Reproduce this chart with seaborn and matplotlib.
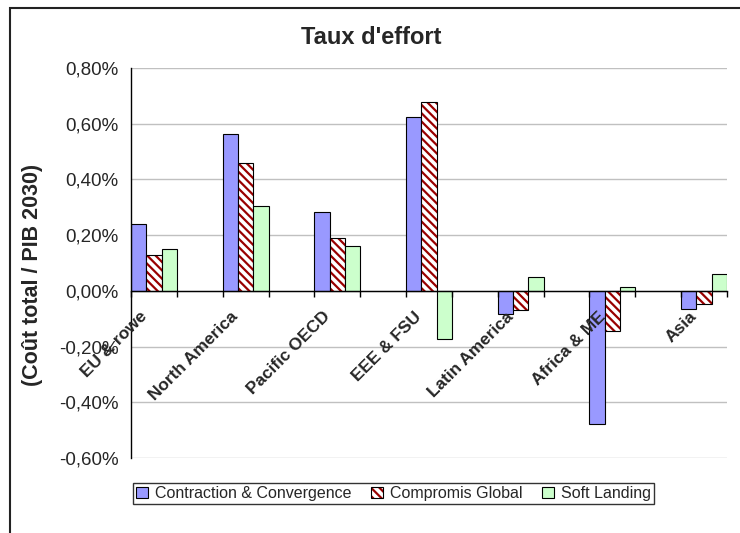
import matplotlib
matplotlib.use("Agg")
import matplotlib.pyplot as plt
import matplotlib.transforms as mtransforms
from matplotlib.patches import Rectangle
from matplotlib.colors import to_rgba
from matplotlib.ticker import FixedLocator, FuncFormatter
import seaborn as sns
import pandas as pd

# ---- data (values in % of GDP 2030) ----
regions = ["EU & rowe", "North America", "Pacific OECD", "EEE & FSU",
           "Latin America", "Africa & ME", "Asia"]
scenarios = ["Contraction & Convergence", "Compromis Global", "Soft Landing"]
cc_values = [0.239, 0.564, 0.284, 0.623, -0.083, -0.478, -0.066]
cg_values = [0.130, 0.460, 0.189, 0.679, -0.069, -0.145, -0.047]
sl_values = [0.151, 0.306, 0.161, -0.173, 0.051, 0.015, 0.061]
y_ticks = [-0.6, -0.4, -0.2, 0.0, 0.2, 0.4, 0.6, 0.8]
title = "Taux d'effort"
y_label = "(Coût total / PIB 2030)"

df = pd.DataFrame({
    "region": regions * 3,
    "scenario": [scenarios[0]] * 7 + [scenarios[1]] * 7 + [scenarios[2]] * 7,
    "value": cc_values + cg_values + sl_values,
})

sns.set_style("white")
plt.rcParams["font.family"] = ["Liberation Sans", "DejaVu Sans"]
plt.rcParams["hatch.linewidth"] = 1.6

W, H = 740, 533
fig = plt.figure(figsize=(W / 100, H / 100), dpi=100)
ax = fig.add_axes([131 / W, 1 - 458 / H, (727 - 131) / W, (458 - 68) / H])

palette = ["#9999FF", "#FFFFFF", "#CCFFCC"]
sns.barplot(data=df, x="region", y="value", hue="scenario", order=regions,
            hue_order=scenarios, palette=palette, width=0.5, gap=0,
            edgecolor="black", linewidth=0.8, saturation=1, ax=ax,
            legend=False, errorbar=None)

for p in ax.containers[1].patches:
    p.set_hatch("\\\\\\\\")
    p._hatch_color = to_rgba("#990000")

ax.set_xlim(-0.25, len(regions) - 0.75)
ax.set_ylim(-0.6, 0.8)
ax.set_yticks(y_ticks)
ax.yaxis.set_major_formatter(FuncFormatter(lambda v, _: f"{v:.2f}%".replace(".", ",")))
ax.yaxis.grid(True, color="#C0C0C0", linewidth=1.0)
ax.set_axisbelow(True)
ax.yaxis.set_zorder(0.5)
ax.xaxis.set_zorder(3)

for s in ["top", "right"]:
    ax.spines[s].set_visible(False)
ax.spines["left"].set_color("black")
ax.spines["left"].set_linewidth(1.0)
ax.spines["bottom"].set_color("black")
ax.spines["bottom"].set_linewidth(1.0)
ax.spines["bottom"].set_position(("data", 0))

ax.tick_params(axis="y", which="major", direction="out", length=5, width=1,
               color="black", labelsize=13.5, pad=4)
ax.set_xticks(range(len(regions)))
ax.set_xticklabels(regions, rotation=45, ha="right", va="top",
                   rotation_mode="anchor", fontsize=12.4, fontweight="bold")
ax.tick_params(axis="x", which="major", length=0, pad=13)
edges = [i + d for i in range(len(regions)) for d in (-0.25, 0.25)]
ax.xaxis.set_minor_locator(FixedLocator(edges))
ax.tick_params(axis="x", which="minor", direction="out", length=4, width=1,
               color="black", bottom=True)
offset = mtransforms.ScaledTranslation(-15 / 100, 0, fig.dpi_scale_trans)
for lab in ax.get_xticklabels():
    lab.set_transform(lab.get_transform() + offset)

ax.set_xlabel("")
ax.set_ylabel("")
fig.text(33 / W, 1 - 275 / H, y_label, rotation=90, ha="center", va="center",
         fontsize=15.5, fontweight="bold")
fig.text(371 / W, 1 - 37 / H, title, ha="center", va="center",
         fontsize=17, fontweight="bold")

handles = [c.patches[0] for c in ax.containers]
leg = fig.legend(handles, scenarios, loc="center",
                 bbox_to_anchor=(393.5 / W, 1 - 493.5 / H), ncol=3,
                 fontsize=11.5, frameon=True, fancybox=False, shadow=False,
                 handlelength=0.75, handleheight=0.75, handletextpad=0.45,
                 columnspacing=1.2, borderpad=0.2, borderaxespad=0)
leg.get_frame().set_edgecolor("black")
leg.get_frame().set_linewidth(1.0)

fig.add_artist(Rectangle((10 / W, -0.2), 1.2, 1.2 - 8 / H,
                         transform=fig.transFigure, fill=False,
                         edgecolor="#222222", linewidth=1.5))

fig.savefig("out.png", dpi=100)
